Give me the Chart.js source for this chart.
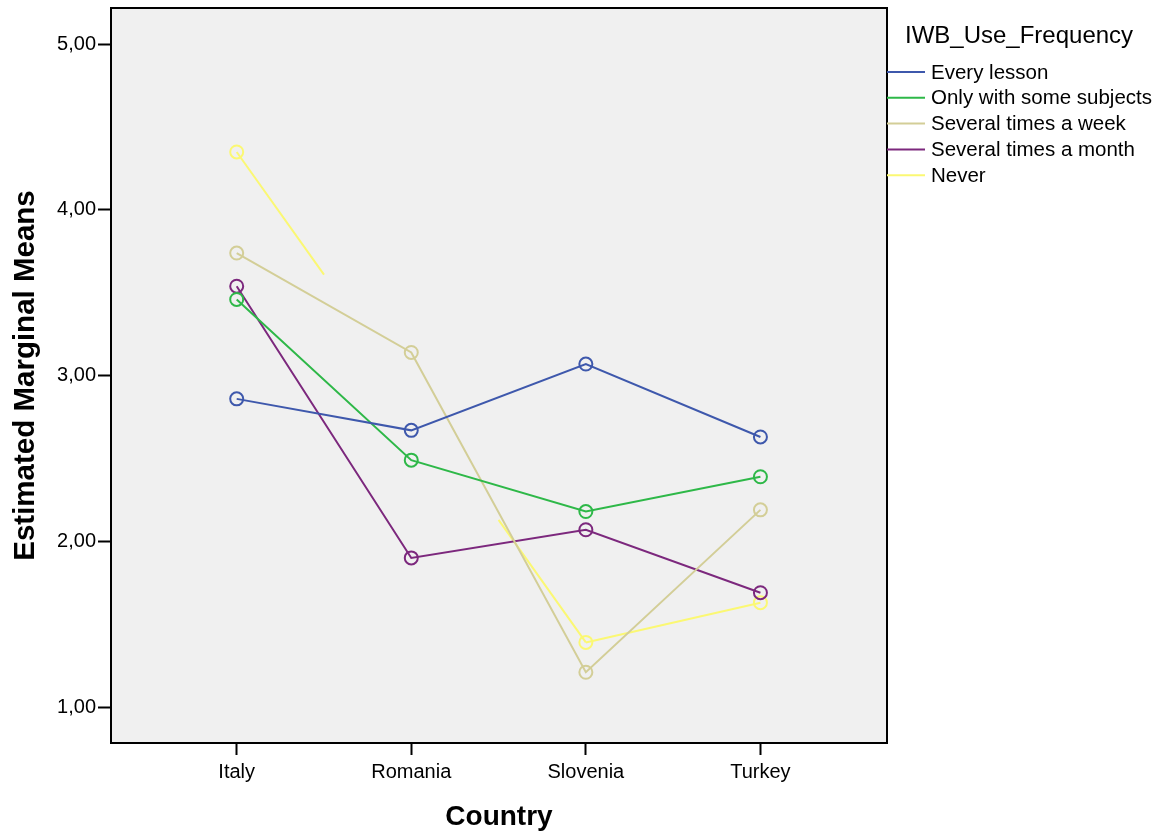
<!DOCTYPE html>
<html>
<head>
<meta charset="utf-8">
<script src="https://cdn.jsdelivr.net/npm/chart.js@4.4.1/dist/chart.umd.min.js"></script>
<style>
  html, body { margin: 0; padding: 0; background: #fff; }
  #wrap { width: 1161px; height: 833px; }
</style>
</head>
<body>
<div id="wrap"><canvas id="chart" width="1161" height="833"></canvas></div>
<script>
// Data
const countries = ["Italy", "Romania", "Slovenia", "Turkey"]
const seriesNames = ["Every lesson", "Only with some subjects", "Several times a week", "Several times a month", "Never"]
const seriesColors = ["#3E58AC", "#2EB848", "#D3CE97", "#7C287D", "#FBF873"]
const everyLesson = [2.86, 2.67, 3.07, 2.63]
const someSubjects = [3.46, 2.49, 2.18, 2.39]
const severalWeek = [3.74, 3.14, 1.21, 2.19]
const severalMonth = [3.54, 1.90, 2.07, 1.69]
// Romania value for "Never" is only implied by the half-drawn lines
const never = [4.35, 2.87, 1.39, 1.63]
const yTicks = [1, 2, 3, 4, 5]
const legendTitle = "IWB_Use_Frequency"

const FONT = "'Liberation Sans', Arial, sans-serif"
const allSeries = [everyLesson, someSubjects, severalWeek, severalMonth, never]

// Half segments for the "Never" line next to the hidden Romania point
function neverDash(ctx) {
  if (ctx.datasetIndex !== 4) return undefined
  const len = Math.hypot(ctx.p1.x - ctx.p0.x, ctx.p1.y - ctx.p0.y)
  if (ctx.p1DataIndex === 1) return [len / 2, len * 2]
  if (ctx.p0DataIndex === 1) return [0, len / 2, len * 2, 0]
  return undefined
}

const datasets = allSeries.map((values, i) => ({
  label: seriesNames[i],
  data: values.map((v, j) => ({ x: j, y: v })),
  borderColor: seriesColors[i],
  backgroundColor: "rgba(0,0,0,0)",
  borderWidth: 2,
  pointRadius: i === 4 ? [6.5, 0, 6.5, 6.5] : 6.5,
  pointBorderWidth: 2,
  pointBorderColor: seriesColors[i],
  pointBackgroundColor: "rgba(0,0,0,0)",
  tension: 0,
  segment: { borderDash: neverDash },
}))

// Plot background and box border
const plotBox = {
  id: "plotBox",
  beforeDraw(chart) {
    const { ctx, chartArea: a } = chart
    ctx.save()
    ctx.fillStyle = "#fff"
    ctx.fillRect(0, 0, chart.width, chart.height)
    ctx.fillStyle = "#F0F0F0"
    ctx.fillRect(a.left, a.top, a.right - a.left, a.bottom - a.top)
    ctx.restore()
  },
  afterDraw(chart) {
    const { ctx, chartArea: a } = chart
    ctx.save()
    ctx.strokeStyle = "#000"
    ctx.lineWidth = 2
    ctx.strokeRect(a.left, a.top, a.right - a.left, a.bottom - a.top)
    ctx.restore()
  },
}

// SPSS style legend to the right of the plot
const sideLegend = {
  id: "sideLegend",
  afterDraw(chart) {
    const { ctx, chartArea: a } = chart
    ctx.save()
    ctx.fillStyle = "#000"
    ctx.textBaseline = "alphabetic"
    ctx.font = "24px " + FONT
    ctx.fillText(legendTitle, a.right + 18, 43)
    ctx.font = "20.5px " + FONT
    ctx.textBaseline = "middle"
    chart.data.datasets.forEach((ds, i) => {
      const y = 72 + i * 25.8
      ctx.strokeStyle = ds.borderColor
      ctx.lineWidth = 2
      ctx.beginPath()
      ctx.moveTo(a.right, y)
      ctx.lineTo(a.right + 38, y)
      ctx.stroke()
      ctx.fillText(ds.label, a.right + 44, y + 1)
    })
    ctx.restore()
  },
}

new Chart(document.getElementById("chart"), {
  type: "line",
  data: { datasets },
  options: {
    responsive: false,
    animation: false,
    layout: { autoPadding: false, padding: { top: 8, right: 274, bottom: 0, left: 0 } },
    plugins: {
      legend: { display: false },
      tooltip: { enabled: false },
    },
    scales: {
      x: {
        type: "linear",
        min: -0.72,
        max: 3.725,
        afterBuildTicks: (s) => { s.ticks = countries.map((c, i) => ({ value: i })) },
        afterFit: (s) => { s.height = 90; s.paddingLeft = 0; s.paddingRight = 0 },
        ticks: {
          color: "#000",
          font: { family: FONT, size: 20 },
          padding: 5,
          maxRotation: 0,
          autoSkip: false,
          callback: (v) => countries[v],
        },
        grid: { drawOnChartArea: false, drawTicks: true, tickLength: 12, tickWidth: 2, tickColor: "#000" },
        border: { display: true, color: "#000", width: 2 },
        title: {
          display: true,
          text: "Country",
          color: "#000",
          font: { family: FONT, size: 28, weight: "bold" },
          padding: { top: 0, bottom: -1 },
        },
      },
      y: {
        min: 0.783,
        max: 5.219,
        afterBuildTicks: (s) => { s.ticks = yTicks.map((v) => ({ value: v })) },
        afterFit: (s) => { s.width = 111; s.paddingTop = 0; s.paddingBottom = 0 },
        ticks: {
          color: "#000",
          font: { family: FONT, size: 20 },
          padding: 2,
          callback: (v) => v.toFixed(2).replace(".", ","),
        },
        grid: { drawOnChartArea: false, drawTicks: true, tickLength: 13, tickWidth: 2, tickColor: "#000" },
        border: { display: true, color: "#000", width: 2 },
        title: {
          display: true,
          text: "Estimated Marginal Means",
          color: "#000",
          font: { family: FONT, size: 29.5, weight: "bold" },
          padding: { top: 8, bottom: 0 },
        },
      },
    },
  },
  plugins: [plotBox, sideLegend],
})
</script>
</body>
</html>
